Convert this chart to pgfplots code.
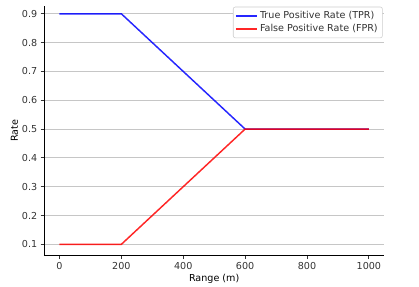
\documentclass[border=0pt]{standalone}
\usepackage{pgfplots}
\pgfplotsset{compat=1.18}
\usepackage{fontspec}
\setmainfont{DejaVu Sans}
\begin{document}
\fontsize{7.2pt}{8.6pt}\selectfont
\begin{tikzpicture}
\begin{axis}[
  scale only axis,
  width=255.4pt, height=187.5pt,
  xmin=-50, xmax=1050,
  ymin=0.06, ymax=0.927,
  xtick={0,200,400,600,800,1000},
  ytick={0.1,0.2,0.3,0.4,0.5,0.6,0.7,0.8,0.9},
  xticklabel style={/pgf/number format/.cd,set thousands separator={}},
  yticklabel style={/pgf/number format/.cd,fixed,fixed zerofill,precision=1},
  /pgf/number format/assume math mode=true,
  axis x line*=bottom, axis y line*=left,
  axis line style={line width=0.6pt, -},
  tick align=outside, major tick length=2.5pt,
  tick style={line width=0.6pt, black!80},
  ymajorgrids, grid style={line width=0.6pt, gray!45},
  ticklabel style={font=\fontsize{7.2pt}{8.6pt}\selectfont, text=black!80},
  xlabel={Range (m)}, ylabel={Rate},
  label style={font=\fontsize{7.2pt}{8.6pt}\selectfont},
  xlabel style={yshift=2pt},
  ylabel style={yshift=-2pt},
  legend style={at={(0.995,0.997)}, anchor=north east, draw=gray!40, rounded corners=1.5pt,
    font=\fontsize{7.2pt}{8.6pt}\selectfont, text=black!80, row sep=-1pt, inner sep=1.5pt},
  legend cell align=left,
  legend image code/.code={\draw[#1, line width=1.1pt] (0pt,0pt) -- (15.5pt,0pt);},
]
\addplot[blue, line width=1.1pt, opacity=0.85] coordinates {(0,0.9) (200,0.9) (600,0.5) (1000,0.5)};
\addlegendentry{True Positive Rate (TPR)}
\addplot[red, line width=1.1pt, opacity=0.85] coordinates {(0,0.1) (200,0.1) (600,0.5) (1000,0.5)};
\addlegendentry{False Positive Rate (FPR)}
\end{axis}
\path (current axis.south west) ++(-33pt,-22.5pt) coordinate (bl);
\path (current axis.north east) ++(26pt,4.5pt) coordinate (tr);
\useasboundingbox (bl) rectangle (tr);
\end{tikzpicture}
\end{document}
